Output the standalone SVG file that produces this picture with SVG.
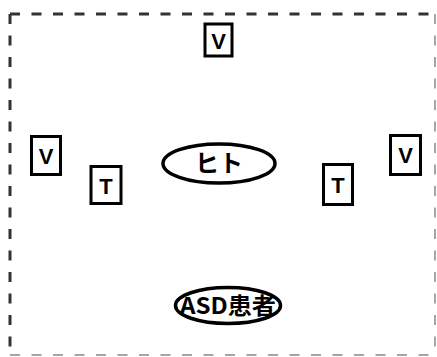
<svg xmlns="http://www.w3.org/2000/svg" width="437" height="357" viewBox="0 0 437 357">
<style>
.box{fill:#fff;stroke:#000;stroke-width:3}
.ell{fill:#fff;stroke:#000;stroke-width:3.5}
.lbl{font-family:"Liberation Sans","Noto Sans CJK JP",sans-serif;font-weight:bold;font-size:22px;text-anchor:middle;fill:#000}
.jp{font-family:"Noto Sans CJK JP",sans-serif;font-weight:bold;font-size:24px;text-anchor:middle;fill:#000}
.dash{fill:none;stroke:#333;stroke-width:3;stroke-dasharray:10 11.5}
.dash2{fill:none;stroke:#888;stroke-width:1.5;stroke-dasharray:10 11.5}
</style>
<rect width="437" height="357" fill="#fff"/>
<g id="frame">
<line class="dash" x1="10" y1="14" x2="437" y2="14"/>
<line class="dash" x1="10" y1="14" x2="10" y2="357"/>
<line class="dash2" x1="435" y1="14" x2="435" y2="357"/>
<line class="dash2" x1="10" y1="355" x2="437" y2="355"/>
</g>
<g id="connectors"></g>
<g id="v-top"><rect class="box" x="205" y="24" width="27" height="32"/><text class="lbl" x="218.5" y="48.5">V</text></g>
<g id="v-left"><rect class="box" x="31.5" y="136.5" width="29" height="38"/><text class="lbl" x="46" y="164">V</text></g>
<g id="t-left"><rect class="box" x="91" y="166.5" width="30" height="37"/><text class="lbl" x="106" y="194">T</text></g>
<g id="hito"><ellipse class="ell" cx="219" cy="163.5" rx="56" ry="19.5"/><text class="jp" x="219" y="172">ヒト</text></g>
<g id="t-right"><rect class="box" x="323.5" y="164.5" width="29" height="40"/><text class="lbl" x="338" y="193">T</text></g>
<g id="v-right"><rect class="box" x="390.5" y="135.5" width="30" height="39"/><text class="lbl" x="405.5" y="163">V</text></g>
<g id="asd"><ellipse class="ell" cx="228" cy="305.5" rx="52.5" ry="18"/><text class="jp" x="228" y="314" textLength="96" lengthAdjust="spacingAndGlyphs" style="font-size:23px">ASD患者</text></g>
</svg>
